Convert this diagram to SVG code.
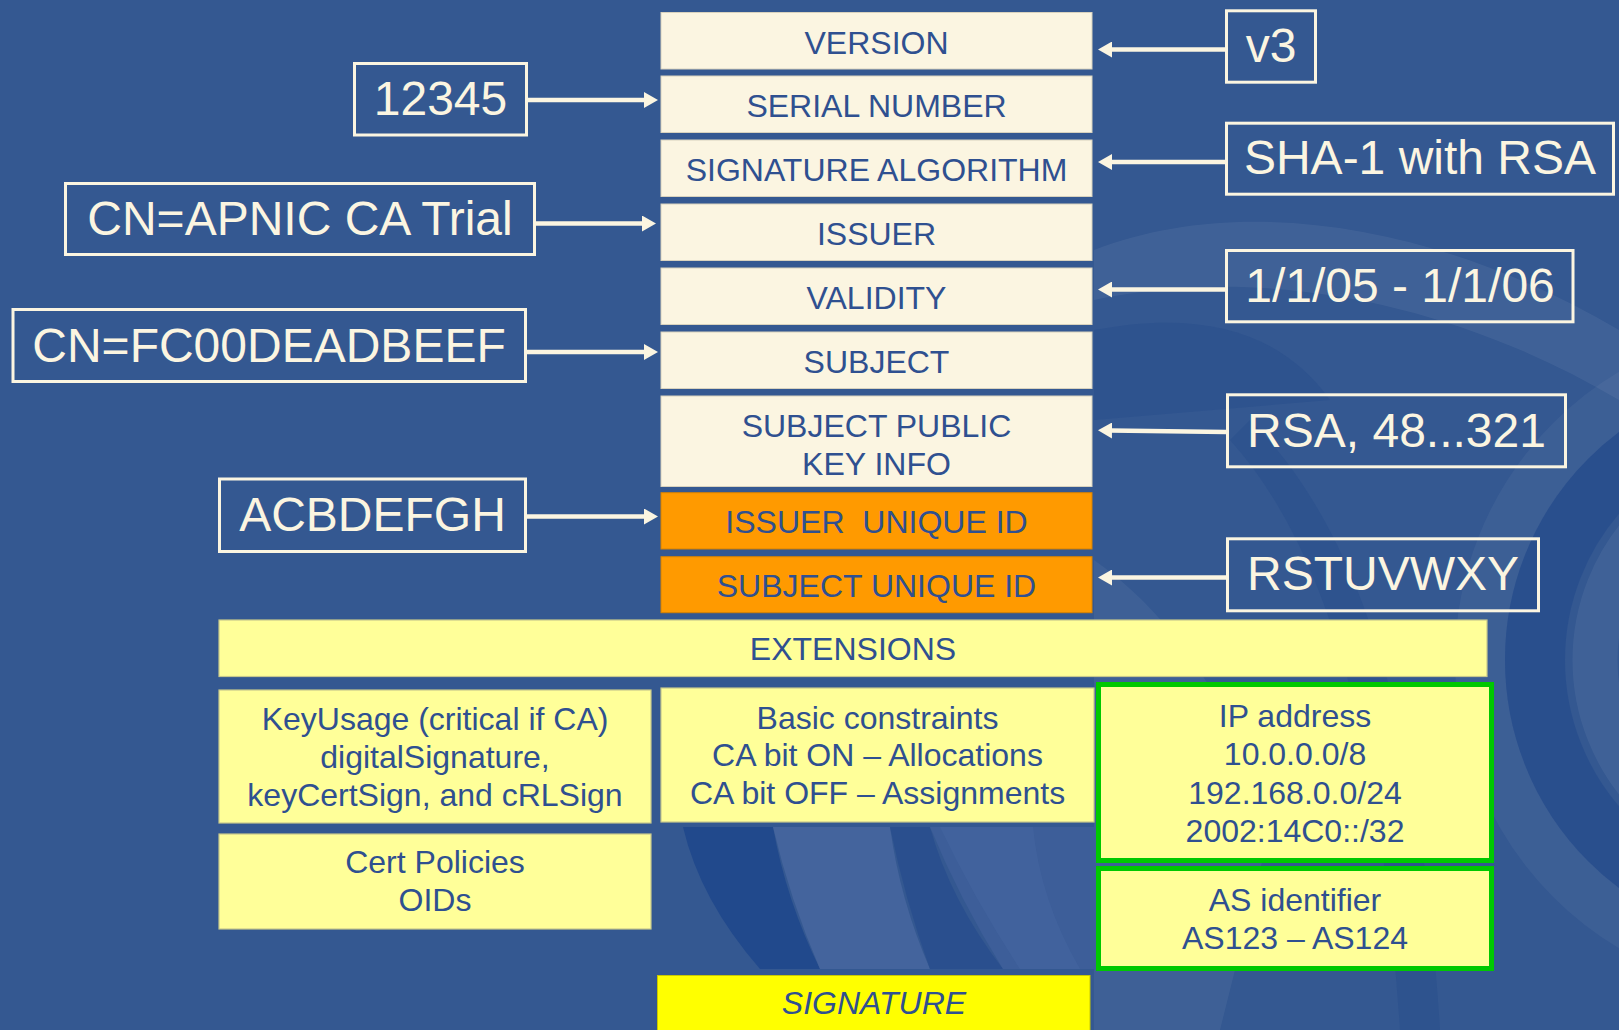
<svg xmlns="http://www.w3.org/2000/svg" width="1619" height="1030" viewBox="0 0 1619 1030">
  <defs>
    <style>
      .bg { fill: #345891; }
      .field { fill: #FBF5E1; stroke: #D8D2BE; stroke-width: 1; }
      .uid { fill: #FF9A00; stroke: #D88200; stroke-width: 1; }
      .ext { fill: #FFFF99; stroke: #C8C88C; stroke-width: 1.2; }
      .res { fill: #FFFF99; stroke: #00C800; stroke-width: 5; }
      .sig { fill: #FFFF00; stroke: #C8C800; stroke-width: 1; }
      .val { fill: none; stroke: #FBF5E1; stroke-width: 3; }
      .ft { font-family: "Liberation Sans", Arial, sans-serif; font-size: 32px; fill: #2F5090; text-anchor: middle; }
      .vt { font-family: "Liberation Sans", Arial, sans-serif; font-size: 48px; fill: #FBF5E1; text-anchor: middle; }
      .wire { fill: none; stroke: #FBF5E1; stroke-width: 4.5; marker-end: url(#head); }
    </style>
    <marker id="head" viewBox="0 0 14 16" markerWidth="14" markerHeight="16" markerUnits="userSpaceOnUse" refX="2" refY="8" orient="auto">
      <path d="M0,0 L14,8 L0,16 Z" fill="#FBF5E1"/>
    </marker>
    <clipPath id="swirlArea">
      <rect x="1094" y="0" width="525" height="1030"/>
    </clipPath>
  </defs>

  <!-- backdrop -->
  <g id="backdrop">
    <rect class="bg" x="0" y="0" width="1619" height="1030"/>
    <g clip-path="url(#swirlArea)">
      <path d="M1094,250 C1250,190 1450,230 1619,330 L1619,400 C1450,300 1260,265 1094,300 Z" fill="#FFFFFF" opacity="0.06"/>
      <path d="M1094,330 C1200,310 1280,330 1330,400 L1094,420 Z" fill="#1C4489" opacity="0.25"/>
      <circle cx="1790" cy="660" r="310" fill="none" stroke="#FFFFFF" stroke-width="50" opacity="0.045"/>
      <circle cx="1790" cy="660" r="255" fill="none" stroke="#1C4489" stroke-width="60" opacity="0.45"/>
      <circle cx="1790" cy="660" r="195" fill="none" stroke="#FFFFFF" stroke-width="45" opacity="0.06"/>
      <path d="M1094,560 C1180,620 1240,720 1270,830 L1220,1030 L1094,1030 Z" fill="#FFFFFF" opacity="0.05"/>
      <path d="M1250,420 C1350,520 1420,700 1440,1030 L1400,1030 C1380,720 1320,540 1230,440 Z" fill="#1C4489" opacity="0.25"/>
    </g>
    <!-- swirl bands showing below the basic constraints cell -->
    <g id="pocket">
      <rect x="683" y="827" width="412" height="142" fill="#345891"/>
      <path d="M683,827 Q700,900 760,969 L820,969 Q786,900 773,827 Z" fill="#21498C"/>
      <path d="M773,827 Q790,900 820,969 L930,969 Q900,900 890,827 Z" fill="#44649D"/>
      <path d="M890,827 Q905,900 930,969 L1003,969 Q950,900 930,827 Z" fill="#2A4F8E"/>
      <path d="M930,827 Q960,900 1003,969 L1095,969 L1095,827 Z" fill="#3D5E99"/>
      <path d="M940,827 Q975,900 1020,969 L1080,969 Q1040,900 1033,827 Z" fill="#4565A0" opacity="0.6"/>
    </g>
  </g>

  <!-- certificate fields -->
  <g id="version"><rect class="field" x="661" y="12.5" width="431" height="56.5"/><text class="ft" x="876.5" y="53.5">VERSION</text></g>
  <g id="serial"><rect class="field" x="661" y="76" width="431" height="56.5"/><text class="ft" x="876.5" y="117">SERIAL NUMBER</text></g>
  <g id="sigalg"><rect class="field" x="661" y="140" width="431" height="56.5"/><text class="ft" x="876.5" y="181">SIGNATURE ALGORITHM</text></g>
  <g id="issuer"><rect class="field" x="661" y="204" width="431" height="56.5"/><text class="ft" x="876.5" y="245">ISSUER</text></g>
  <g id="validity"><rect class="field" x="661" y="268" width="431" height="56.5"/><text class="ft" x="876.5" y="308.5">VALIDITY</text></g>
  <g id="subject"><rect class="field" x="661" y="332" width="431" height="56.5"/><text class="ft" x="876.5" y="372.5">SUBJECT</text></g>
  <g id="spki"><rect class="field" x="661" y="396" width="431" height="90.5"/><text class="ft" x="876.5" y="436.5">SUBJECT PUBLIC</text><text class="ft" x="876.5" y="475">KEY INFO</text></g>
  <g id="issuer-uid"><rect class="uid" x="661" y="492.7" width="431" height="56.3"/><text class="ft" x="876.5" y="533" style="white-space:pre">ISSUER  UNIQUE ID</text></g>
  <g id="subject-uid"><rect class="uid" x="661" y="556.7" width="431" height="56"/><text class="ft" x="876.5" y="597">SUBJECT UNIQUE ID</text></g>

  <!-- extensions -->
  <g id="extensions"><rect class="ext" x="219" y="620" width="1268" height="56.5"/><text class="ft" x="853" y="659.5">EXTENSIONS</text></g>
  <g id="keyusage"><rect class="ext" x="219" y="690" width="432" height="133"/>
    <text class="ft" x="435" y="729.5">KeyUsage (critical if CA)</text>
    <text class="ft" x="435" y="768">digitalSignature,</text>
    <text class="ft" x="435" y="806">keyCertSign, and cRLSign</text></g>
  <g id="basic"><rect class="ext" x="661" y="688" width="433" height="134"/>
    <text class="ft" x="877.5" y="728.5">Basic constraints</text>
    <text class="ft" x="877.5" y="766">CA bit ON – Allocations</text>
    <text class="ft" x="877.5" y="803.5">CA bit OFF – Assignments</text></g>
  <g id="policies"><rect class="ext" x="219" y="834" width="432" height="95"/>
    <text class="ft" x="435" y="873">Cert Policies</text>
    <text class="ft" x="435" y="911">OIDs</text></g>
  <g id="ip-address"><rect class="res" x="1098.5" y="684.5" width="393" height="176"/>
    <text class="ft" x="1295" y="727">IP address</text>
    <text class="ft" x="1295" y="765">10.0.0.0/8</text>
    <text class="ft" x="1295" y="803.5">192.168.0.0/24</text>
    <text class="ft" x="1295" y="842">2002:14C0::/32</text></g>
  <g id="as-id"><rect class="res" x="1098.5" y="868.5" width="393" height="100"/>
    <text class="ft" x="1295" y="911">AS identifier</text>
    <text class="ft" x="1295" y="948.5">AS123 – AS124</text></g>
  <g id="signature"><rect class="sig" x="657.5" y="975.5" width="432.5" height="60"/>
    <text class="ft" x="874" y="1013.5" font-style="italic">SIGNATURE</text></g>

  <!-- sample values -->
  <g id="v-serial"><rect class="val" x="354.5" y="63.5" width="172" height="71.5"/><text class="vt" x="440.5" y="115" font-size="46">12345</text></g>
  <g id="v-issuer"><rect class="val" x="65.5" y="183.5" width="469" height="71"/><text class="vt" x="300" y="235">CN=APNIC CA Trial</text></g>
  <g id="v-subject"><rect class="val" x="13" y="309.5" width="512.5" height="72"/><text class="vt" x="269" y="361.5">CN=FC00DEADBEEF</text></g>
  <g id="v-issuer-uid"><rect class="val" x="219.5" y="479" width="306" height="72.5"/><text class="vt" x="372.5" y="531">ACBDEFGH</text></g>
  <g id="v-version"><rect class="val" x="1226.5" y="10.8" width="89" height="71.4"/><text class="vt" x="1271" y="61.5">v3</text></g>
  <g id="v-sigalg"><rect class="val" x="1226.5" y="123.2" width="387" height="71"/><text class="vt" x="1420" y="174">SHA-1 with RSA</text></g>
  <g id="v-validity"><rect class="val" x="1226.5" y="250.5" width="346.5" height="71.3"/><text class="vt" x="1400" y="301.5">1/1/05 - 1/1/06</text></g>
  <g id="v-key"><rect class="val" x="1227.5" y="394.8" width="338" height="72"/><text class="vt" x="1396.5" y="446.5">RSA, 48...321</text></g>
  <g id="v-subject-uid"><rect class="val" x="1227.5" y="538.8" width="311" height="72"/><text class="vt" x="1383" y="590">RSTUVWXY</text></g>

  <!-- connectors -->
  <g id="connectors">
    <path class="wire" d="M528,100 L646,100"/>
    <path class="wire" d="M536,223.5 L644,223.5"/>
    <path class="wire" d="M527,352 L646,352"/>
    <path class="wire" d="M527,516.5 L646,516.5"/>
    <path class="wire" d="M1225,49.5 L1110,49.5"/>
    <path class="wire" d="M1225,162 L1110,162"/>
    <path class="wire" d="M1225,289.5 L1110,289.5"/>
    <path class="wire" d="M1226,432 L1110,430.5"/>
    <path class="wire" d="M1226,577.5 L1110,577.5"/>
  </g>
</svg>
